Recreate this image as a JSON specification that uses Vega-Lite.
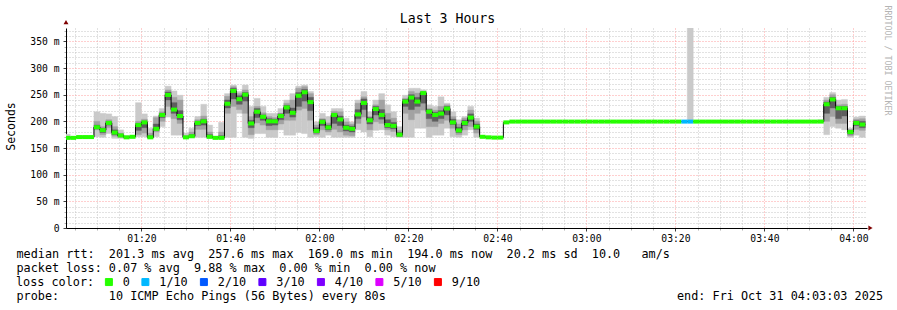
{
  "$schema": "https://vega.github.io/schema/vega-lite/v6.json",
  "width": 801,
  "height": 200,
  "autosize": {"type": "none"},
  "padding": {"left": 66, "top": 28, "right": 30, "bottom": 82},
  "background": "white",
  "config": {"view": {"stroke": null}, "font": "DejaVu Sans Mono"},
  "title": {"text": "Last 3 Hours", "frame": "group", "anchor": "middle", "dx": -19, "dy": 25, "offset": 4, "font": "DejaVu Sans Mono", "fontSize": 13.2, "fontWeight": "normal", "color": "#000"},
  "data": {
    "format": {"parse": {"t": "date:'%H:%M:%S'"}},
    "values": [
      {"t":"01:02:40","m":169,"l":"0","a":168,"b":176},
      {"t":"01:04:00","m":169,"l":"0","a":168,"b":171},
      {"t":"01:05:20","m":170.5,"l":"0","a":169,"b":172},
      {"t":"01:06:40","m":170.5,"l":"0","a":169,"b":172},
      {"t":"01:08:00","m":170.5,"l":"0","a":169,"b":172},
      {"t":"01:09:20","m":189,"l":"0","a":171,"b":218,"c":184,"d":200,"e":186,"f":193},
      {"t":"01:10:40","m":183.5,"l":"0","a":170,"b":215,"c":175,"d":190,"e":179,"f":187},
      {"t":"01:12:00","m":197,"l":"0","a":177,"b":214,"c":188,"d":203,"e":193,"f":200},
      {"t":"01:13:20","m":179,"l":"0","a":168,"b":209,"c":172,"d":190,"e":175,"f":184},
      {"t":"01:14:40","m":173.5,"l":"0","a":168,"b":184,"c":170,"d":178,"e":172,"f":176},
      {"t":"01:16:00","m":170,"l":"0","a":168,"b":173},
      {"t":"01:17:20","m":171,"l":"0","a":169,"b":173},
      {"t":"01:18:40","m":193,"l":"0","a":171,"b":235,"c":175,"d":200,"e":183,"f":196},
      {"t":"01:20:00","m":198,"l":"0","a":171,"b":214,"c":178,"d":204,"e":188,"f":200},
      {"t":"01:21:20","m":170,"l":"0","a":168,"b":187,"c":169,"d":178,"e":169,"f":173},
      {"t":"01:22:40","m":186,"l":"0","a":171,"b":210,"c":180,"d":207,"e":183,"f":195},
      {"t":"01:24:00","m":212,"l":"0","a":190,"b":224,"c":200,"d":218,"e":207,"f":215},
      {"t":"01:25:20","m":249.5,"l":"0","a":208,"b":266,"c":228,"d":259,"e":240,"f":255},
      {"t":"01:26:40","m":222,"l":"0","a":174,"b":257,"c":205,"d":245,"e":215,"f":235},
      {"t":"01:28:00","m":210,"l":"0","a":174,"b":249,"c":196,"d":240,"e":203,"f":220},
      {"t":"01:29:20","m":170,"l":"0","a":168,"b":178,"c":169,"d":173},
      {"t":"01:30:40","m":172,"l":"0","a":170,"b":187,"c":171,"d":180,"e":171,"f":175},
      {"t":"01:32:00","m":197,"l":"0","a":170,"b":209,"c":185,"d":203,"e":192,"f":200},
      {"t":"01:33:20","m":200,"l":"0","a":170,"b":232,"c":185,"d":210,"e":193,"f":204},
      {"t":"01:34:40","m":171,"l":"0","a":168,"b":193,"c":169,"d":180,"e":170,"f":175},
      {"t":"01:36:00","m":169,"l":"0","a":167,"b":172},
      {"t":"01:37:20","m":169,"l":"0","a":169,"b":198,"c":169,"d":180,"e":169,"f":173},
      {"t":"01:38:40","m":233,"l":"0","a":170,"b":252,"c":215,"d":247,"e":225,"f":240},
      {"t":"01:40:00","m":257,"l":"0","a":170,"b":268,"c":228,"d":265,"e":242,"f":262},
      {"t":"01:41:20","m":241.5,"l":"0","a":215,"b":256,"c":222,"d":252,"e":232,"f":248},
      {"t":"01:42:40","m":250,"l":"0","a":170,"b":268,"c":215,"d":259,"e":238,"f":254},
      {"t":"01:44:00","m":196,"l":"0","a":168,"b":228,"c":175,"d":209,"e":188,"f":202},
      {"t":"01:45:20","m":218,"l":"0","a":177,"b":243,"c":197,"d":228,"e":207,"f":224},
      {"t":"01:46:40","m":208.5,"l":"0","a":177,"b":228,"c":193,"d":216,"e":202,"f":212},
      {"t":"01:48:00","m":200,"l":"0","a":170,"b":215,"c":184,"d":209,"e":192,"f":205},
      {"t":"01:49:20","m":200,"l":"0","a":170,"b":215,"c":184,"d":207,"e":193,"f":204},
      {"t":"01:50:40","m":210,"l":"0","a":184,"b":224,"c":195,"d":215,"e":203,"f":214},
      {"t":"01:52:00","m":226,"l":"0","a":174,"b":240,"c":202,"d":234,"e":215,"f":230},
      {"t":"01:53:20","m":216,"l":"0","a":174,"b":252,"c":202,"d":240,"e":208,"f":225},
      {"t":"01:54:40","m":248,"l":"0","a":179,"b":266,"c":221,"d":262,"e":228,"f":254},
      {"t":"01:56:00","m":254.5,"l":"0","a":177,"b":268,"c":224,"d":265,"e":238,"f":260},
      {"t":"01:57:20","m":236,"l":"0","a":170,"b":256,"c":202,"d":252,"e":220,"f":245},
      {"t":"01:58:40","m":182,"l":"0","a":171,"b":199,"c":175,"d":193,"e":178,"f":188},
      {"t":"02:00:00","m":199,"l":"0","a":170,"b":215,"c":184,"d":205,"e":192,"f":203},
      {"t":"02:01:20","m":188.5,"l":"0","a":174,"b":209,"c":180,"d":197,"e":184,"f":193},
      {"t":"02:02:40","m":212,"l":"0","a":170,"b":224,"c":185,"d":219,"e":196,"f":215},
      {"t":"02:04:00","m":203.5,"l":"0","a":170,"b":224,"c":180,"d":218,"e":192,"f":210},
      {"t":"02:05:20","m":188,"l":"0","a":170,"b":206,"c":174,"d":199,"e":182,"f":193},
      {"t":"02:06:40","m":186,"l":"0","a":170,"b":199,"c":173,"d":195,"e":180,"f":191},
      {"t":"02:08:00","m":213,"l":"0","a":184,"b":240,"c":196,"d":234,"e":205,"f":222},
      {"t":"02:09:20","m":234.5,"l":"0","a":180,"b":256,"c":208,"d":246,"e":222,"f":242},
      {"t":"02:10:40","m":202,"l":"0","a":171,"b":218,"c":184,"d":209,"e":195,"f":207},
      {"t":"02:12:00","m":223,"l":"0","a":183,"b":240,"c":199,"d":231,"e":212,"f":228},
      {"t":"02:13:20","m":212,"l":"0","a":184,"b":252,"c":196,"d":240,"e":204,"f":222},
      {"t":"02:14:40","m":193,"l":"0","a":174,"b":231,"c":184,"d":215,"e":188,"f":203},
      {"t":"02:16:00","m":191.5,"l":"0","a":171,"b":218,"c":181,"d":206,"e":186,"f":198},
      {"t":"02:17:20","m":175,"l":"0","a":170,"b":190,"c":171,"d":183,"e":172,"f":179},
      {"t":"02:18:40","m":237,"l":"0","a":170,"b":249,"c":215,"d":243,"e":228,"f":241},
      {"t":"02:20:00","m":244.5,"l":"0","a":170,"b":262,"c":203,"d":256,"e":222,"f":250},
      {"t":"02:21:20","m":237,"l":"0","a":187,"b":262,"c":215,"d":253,"e":228,"f":245},
      {"t":"02:22:40","m":253,"l":"0","a":187,"b":259,"c":221,"d":256,"e":234,"f":255},
      {"t":"02:24:00","m":218,"l":"0","a":170,"b":231,"c":190,"d":224,"e":205,"f":222},
      {"t":"02:25:20","m":212,"l":"0","a":174,"b":228,"c":190,"d":221,"e":200,"f":217},
      {"t":"02:26:40","m":214.5,"l":"0","a":174,"b":246,"c":196,"d":228,"e":205,"f":220},
      {"t":"02:28:00","m":224,"l":"0","a":187,"b":234,"c":202,"d":231,"e":212,"f":228},
      {"t":"02:29:20","m":198,"l":"0","a":171,"b":218,"c":187,"d":209,"e":194,"f":204},
      {"t":"02:30:40","m":183,"l":"0","a":170,"b":203,"c":175,"d":195,"e":179,"f":189},
      {"t":"02:32:00","m":197,"l":"0","a":174,"b":209,"c":184,"d":206,"e":192,"f":202},
      {"t":"02:33:20","m":207,"l":"0","a":184,"b":228,"c":190,"d":221,"e":200,"f":214},
      {"t":"02:34:40","m":190,"l":"0","a":170,"b":206,"c":178,"d":200,"e":185,"f":195},
      {"t":"02:36:00","m":171,"l":"0","a":170,"b":172},
      {"t":"02:37:20","m":170,"l":"0","a":169,"b":171},
      {"t":"02:38:40","m":169.5,"l":"0"},
      {"t":"02:40:00","m":169.5,"l":"0"},
      {"t":"02:41:20","m":198,"l":"0"},
      {"t":"02:42:40","m":199.5,"l":"0"},
      {"t":"02:44:00","m":199.5,"l":"0"},
      {"t":"02:45:20","m":199.5,"l":"0"},
      {"t":"02:46:40","m":199.5,"l":"0"},
      {"t":"02:48:00","m":199.5,"l":"0"},
      {"t":"02:49:20","m":199.5,"l":"0"},
      {"t":"02:50:40","m":199.5,"l":"0"},
      {"t":"02:52:00","m":199.5,"l":"0"},
      {"t":"02:53:20","m":199.5,"l":"0"},
      {"t":"02:54:40","m":199.5,"l":"0"},
      {"t":"02:56:00","m":199.5,"l":"0"},
      {"t":"02:57:20","m":199.5,"l":"0"},
      {"t":"02:58:40","m":199.5,"l":"0"},
      {"t":"03:00:00","m":199.5,"l":"0"},
      {"t":"03:01:20","m":199.5,"l":"0"},
      {"t":"03:02:40","m":199.5,"l":"0"},
      {"t":"03:04:00","m":199.5,"l":"0"},
      {"t":"03:05:20","m":199.5,"l":"0"},
      {"t":"03:06:40","m":199.5,"l":"0"},
      {"t":"03:08:00","m":199.5,"l":"0"},
      {"t":"03:09:20","m":199.5,"l":"0"},
      {"t":"03:10:40","m":199.5,"l":"0"},
      {"t":"03:12:00","m":199.5,"l":"0"},
      {"t":"03:13:20","m":199.5,"l":"0"},
      {"t":"03:14:40","m":199.5,"l":"0"},
      {"t":"03:16:00","m":199.5,"l":"0"},
      {"t":"03:17:20","m":199.5,"l":"0"},
      {"t":"03:18:40","m":199.5,"l":"0"},
      {"t":"03:20:00","m":199.5,"l":"0"},
      {"t":"03:21:20","m":199.5,"l":"1/10"},
      {"t":"03:22:40","m":199.5,"l":"1/10","a":199.5,"b":420},
      {"t":"03:24:00","m":199.5,"l":"0"},
      {"t":"03:25:20","m":199.5,"l":"0"},
      {"t":"03:26:40","m":199.5,"l":"0"},
      {"t":"03:28:00","m":199.5,"l":"0"},
      {"t":"03:29:20","m":199.5,"l":"0"},
      {"t":"03:30:40","m":199.5,"l":"0"},
      {"t":"03:32:00","m":199.5,"l":"0"},
      {"t":"03:33:20","m":199.5,"l":"0"},
      {"t":"03:34:40","m":199.5,"l":"0"},
      {"t":"03:36:00","m":199.5,"l":"0"},
      {"t":"03:37:20","m":199.5,"l":"0"},
      {"t":"03:38:40","m":199.5,"l":"0"},
      {"t":"03:40:00","m":199.5,"l":"0"},
      {"t":"03:41:20","m":199.5,"l":"0"},
      {"t":"03:42:40","m":199.5,"l":"0"},
      {"t":"03:44:00","m":199.5,"l":"0"},
      {"t":"03:45:20","m":199.5,"l":"0"},
      {"t":"03:46:40","m":199.5,"l":"0"},
      {"t":"03:48:00","m":199.5,"l":"0"},
      {"t":"03:49:20","m":199.5,"l":"0"},
      {"t":"03:50:40","m":199.5,"l":"0"},
      {"t":"03:52:00","m":199.5,"l":"0","a":199,"b":203},
      {"t":"03:53:20","m":232,"l":"0","a":175,"b":245,"c":200,"d":240,"e":215,"f":236},
      {"t":"03:54:40","m":241,"l":"0","a":190,"b":254,"c":209,"d":250,"e":225,"f":245},
      {"t":"03:56:00","m":224.5,"l":"0","a":187,"b":240,"c":196,"d":231,"e":205,"f":228},
      {"t":"03:57:20","m":224.5,"l":"0","a":184,"b":241,"c":196,"d":232,"e":210,"f":228},
      {"t":"03:58:40","m":180,"l":"0","a":170,"b":187,"c":173,"d":185,"e":176,"f":183},
      {"t":"04:00:00","m":197,"l":"0","a":174,"b":208,"c":185,"d":204,"e":192,"f":201},
      {"t":"04:01:20","m":194,"l":"0","a":170,"b":210,"c":183,"d":205,"e":188,"f":200},
      {"t":"04:02:40","m":194,"l":"0"}
    ]
  },
  "transform": [{"window": [{"op": "lead", "field": "t", "as": "t2"}], "sort": [{"field": "t", "order": "ascending"}]}],
  "layer": [
    {
      "transform": [{"filter": "isValid(datum.a) && isValid(datum.t2)"}],
      "mark": {"type": "rect", "fill": "#cacaca", "stroke": "#cacaca", "strokeWidth": 0.4, "clip": true},
      "encoding": {
        "x": {"field": "t", "type": "temporal",
          "scale": {"domain": [{"year":1900,"month":1,"date":1,"hours":1,"minutes":3,"seconds":3},{"year":1900,"month":1,"date":1,"hours":4,"minutes":3,"seconds":3}], "nice": false},
          "axis": {"orient": "bottom",
            "values": [{"year":1900,"month":1,"date":1,"hours":1,"minutes":5},{"year":1900,"month":1,"date":1,"hours":1,"minutes":10},{"year":1900,"month":1,"date":1,"hours":1,"minutes":15},{"year":1900,"month":1,"date":1,"hours":1,"minutes":25},{"year":1900,"month":1,"date":1,"hours":1,"minutes":30},{"year":1900,"month":1,"date":1,"hours":1,"minutes":35},{"year":1900,"month":1,"date":1,"hours":1,"minutes":45},{"year":1900,"month":1,"date":1,"hours":1,"minutes":50},{"year":1900,"month":1,"date":1,"hours":1,"minutes":55},{"year":1900,"month":1,"date":1,"hours":2,"minutes":5},{"year":1900,"month":1,"date":1,"hours":2,"minutes":10},{"year":1900,"month":1,"date":1,"hours":2,"minutes":15},{"year":1900,"month":1,"date":1,"hours":2,"minutes":25},{"year":1900,"month":1,"date":1,"hours":2,"minutes":30},{"year":1900,"month":1,"date":1,"hours":2,"minutes":35},{"year":1900,"month":1,"date":1,"hours":2,"minutes":45},{"year":1900,"month":1,"date":1,"hours":2,"minutes":50},{"year":1900,"month":1,"date":1,"hours":2,"minutes":55},{"year":1900,"month":1,"date":1,"hours":3,"minutes":5},{"year":1900,"month":1,"date":1,"hours":3,"minutes":10},{"year":1900,"month":1,"date":1,"hours":3,"minutes":15},{"year":1900,"month":1,"date":1,"hours":3,"minutes":25},{"year":1900,"month":1,"date":1,"hours":3,"minutes":30},{"year":1900,"month":1,"date":1,"hours":3,"minutes":35},{"year":1900,"month":1,"date":1,"hours":3,"minutes":45},{"year":1900,"month":1,"date":1,"hours":3,"minutes":50},{"year":1900,"month":1,"date":1,"hours":3,"minutes":55}],
            "grid": true, "gridColor": "#c4c4c4", "gridDash": [1, 2], "labels": false, "ticks": true, "tickSize": 2, "tickColor": "#b0b0b0", "domain": false,
            "title": "probe:\u00a0\u00a0\u00a0\u00a0\u00a0\u00a0\u00a010 ICMP Echo Pings (56 Bytes) every 80s\u00a0\u00a0\u00a0\u00a0\u00a0\u00a0\u00a0\u00a0\u00a0\u00a0\u00a0\u00a0\u00a0\u00a0\u00a0\u00a0\u00a0\u00a0\u00a0\u00a0\u00a0\u00a0\u00a0\u00a0\u00a0\u00a0\u00a0\u00a0\u00a0\u00a0\u00a0\u00a0\u00a0\u00a0\u00a0\u00a0\u00a0\u00a0\u00a0\u00a0\u00a0end: Fri Oct 31 04:03:03 2025",
            "titleX": -50, "titleY": 71.5, "titleAlign": "left", "titleBaseline": "alphabetic", "titleFont": "DejaVu Sans Mono", "titleFontSize": 11.8, "titleFontWeight": "normal", "titleColor": "#000"}
        },
        "x2": {"field": "t2"},
        "y": {"field": "a", "type": "quantitative",
          "scale": {"domain": [0, 375], "nice": false},
          "axis": {"orient": "left",
            "values": [10,20,30,40,60,70,80,90,110,120,130,140,160,170,180,190,210,220,230,240,260,270,280,290,310,320,330,340,360,370],
            "grid": true, "gridColor": "#c4c4c4", "gridDash": [1, 2], "labels": false, "ticks": true, "tickSize": 2, "tickColor": "#b0b0b0", "domain": false,
            "title": "RRDTOOL / TOBI OETIKER", "titleX": 820, "titleY": 32, "titleAngle": 90, "titleAlign": "center", "titleBaseline": "middle", "titleFont": "DejaVu Sans Mono", "titleFontSize": 8.3, "titleFontWeight": "normal", "titleColor": "#b4b4b4"}
        },
        "y2": {"field": "b"}
      }
    },
    {
      "transform": [{"filter": "isValid(datum.c) && isValid(datum.t2)"}],
      "mark": {"type": "rect", "fill": "#a2a2a2", "stroke": "#a2a2a2", "strokeWidth": 0.4, "clip": true},
      "encoding": {
        "x": {"field": "t", "type": "temporal", "axis": null},
        "x2": {"field": "t2"},
        "y": {"field": "c", "type": "quantitative", "axis": null},
        "y2": {"field": "d"}
      }
    },
    {
      "transform": [{"filter": "isValid(datum.e) && isValid(datum.t2)"}],
      "mark": {"type": "rect", "fill": "#5e5e5e", "stroke": "#5e5e5e", "strokeWidth": 0.4, "clip": true},
      "encoding": {
        "x": {"field": "t", "type": "temporal", "axis": null},
        "x2": {"field": "t2"},
        "y": {"field": "e", "type": "quantitative", "axis": null},
        "y2": {"field": "f"}
      }
    },
    {
      "mark": {"type": "line", "interpolate": "step-after", "color": "#000", "strokeWidth": 1, "clip": true},
      "encoding": {
        "x": {"field": "t", "type": "temporal",
          "axis": {"orient": "bottom",
            "values": [{"year":1900,"month":1,"date":1,"hours":1,"minutes":20},{"year":1900,"month":1,"date":1,"hours":1,"minutes":40},{"year":1900,"month":1,"date":1,"hours":2,"minutes":0},{"year":1900,"month":1,"date":1,"hours":2,"minutes":20},{"year":1900,"month":1,"date":1,"hours":2,"minutes":40},{"year":1900,"month":1,"date":1,"hours":3,"minutes":0},{"year":1900,"month":1,"date":1,"hours":3,"minutes":20},{"year":1900,"month":1,"date":1,"hours":3,"minutes":40},{"year":1900,"month":1,"date":1,"hours":4,"minutes":0}],
            "format": "%H:%M", "labelFlush": false, "labelOverlap": false,
            "grid": true, "gridColor": "#ff9f9f", "gridDash": [1, 2],
            "labelFont": "DejaVu Sans Mono", "labelFontSize": 9.7, "labelColor": "#000", "labelPadding": 2,
            "tickSize": 3, "tickColor": "#404040", "domain": true, "domainColor": "#000",
            "title": ["median rtt:\u00a0\u00a0201.3 ms avg\u00a0\u00a0257.6 ms max\u00a0\u00a0169.0 ms min\u00a0\u00a0194.0 ms now\u00a0\u00a020.2 ms sd\u00a0\u00a010.0\u00a0\u00a0\u00a0am/s", "packet loss: 0.07 % avg\u00a0\u00a09.88 % max\u00a0\u00a00.00 % min\u00a0\u00a00.00 % now"],
            "titleX": -50, "titleY": 29.5, "titleAlign": "left", "titleBaseline": "alphabetic", "titleLineHeight": 14, "titleFont": "DejaVu Sans Mono", "titleFontSize": 11.8, "titleFontWeight": "normal", "titleColor": "#000"}
        },
        "y": {"field": "m", "type": "quantitative",
          "axis": {"orient": "left", "values": [0, 50, 100, 150, 200, 250, 300, 350],
            "labelExpr": "datum.value == 0 ? '0' : datum.value + ' m'",
            "grid": true, "gridColor": "#ff9f9f", "gridDash": [1, 2],
            "labelFont": "DejaVu Sans Mono", "labelFontSize": 9.7, "labelColor": "#000", "labelPadding": 4,
            "tickSize": 3, "tickColor": "#404040", "domain": true, "domainColor": "#000",
            "title": "Seconds", "titleX": -55, "titleY": 98, "titleAngle": -90, "titleAlign": "center", "titleBaseline": "middle", "titleFont": "DejaVu Sans Mono", "titleFontSize": 11.5, "titleFontWeight": "normal", "titleColor": "#000"}
        }
      }
    },
    {
      "transform": [{"filter": "isValid(datum.t2)"}],
      "mark": {"type": "rule", "strokeWidth": 4, "strokeCap": "butt", "clip": true},
      "encoding": {
        "x": {"field": "t", "type": "temporal", "axis": null},
        "x2": {"field": "t2"},
        "y": {"field": "m", "type": "quantitative", "axis": null},
        "color": {"field": "l", "type": "nominal",
          "scale": {"domain": ["0", "1/10", "2/10", "3/10", "4/10", "5/10", "9/10"], "range": ["#26ff00", "#00b8ff", "#0059ff", "#5e00ff", "#7e00ff", "#dd00ff", "#ff0000"]},
          "legend": {"orient": "none", "legendX": -50, "legendY": 248, "direction": "horizontal", "padding": 0,
            "title": "loss color:", "titleOrient": "left", "titlePadding": 8, "titleFont": "DejaVu Sans Mono", "titleFontSize": 11.8, "titleFontWeight": "normal", "titleColor": "#000", "titleBaseline": "middle",
            "labelFont": "DejaVu Sans Mono", "labelFontSize": 11.8, "labelColor": "#000", "labelOffset": 8, "columnPadding": 9.5,
            "symbolType": "square", "symbolSize": 49, "symbolStrokeWidth": 1, "symbolStrokeColor": "#000",
            "encode": {"symbols": {"update": {"fill": {"scale": "color", "field": "value"}, "stroke": {"value": "#000"}, "strokeWidth": {"value": 1}, "opacity": {"value": 1}, "shape": {"value": "square"}, "size": {"value": 49}}}}}
        }
      }
    },
    {
      "data": {"format": {"parse": {"t": "date:'%H:%M:%S'"}}, "values": [{"t": "01:03:03", "v": 386, "s": "triangle-up"}, {"t": "04:03:50", "v": 0, "s": "triangle-right"}]},
      "mark": {"type": "point", "filled": true, "color": "#7f0000", "size": 24, "opacity": 1, "clip": false},
      "encoding": {
        "x": {"field": "t", "type": "temporal", "axis": null},
        "y": {"field": "v", "type": "quantitative", "axis": null},
        "shape": {"field": "s", "type": "nominal", "scale": null}
      }
    }
  ],
  "resolve": {"axis": {"x": "independent", "y": "independent"}}
}
